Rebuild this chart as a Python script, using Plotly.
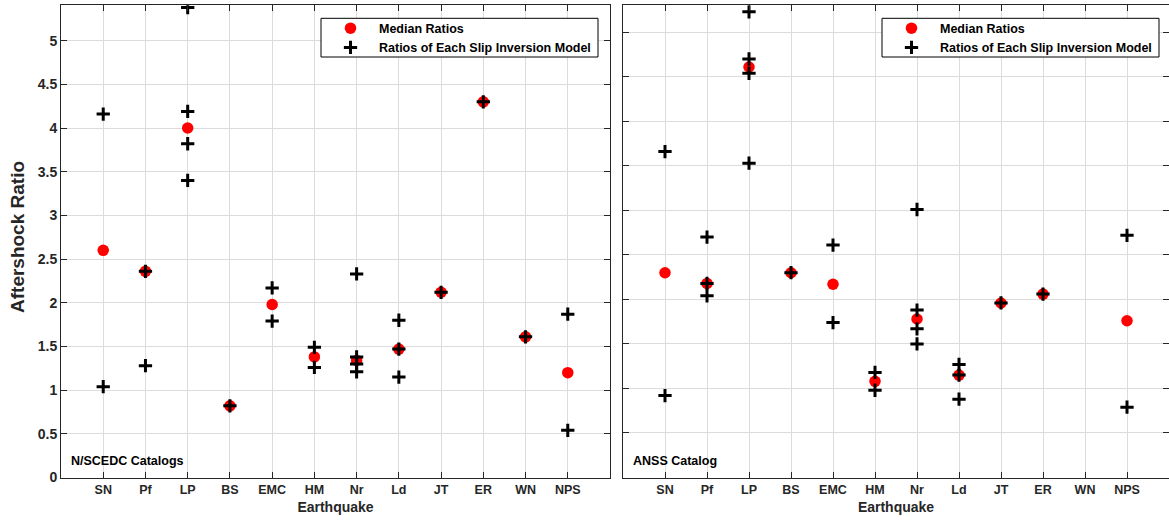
import plotly.graph_objects as go

W, H = 1169, 521

categories = ["SN", "Pf", "LP", "BS", "EMC", "HM", "Nr", "Ld", "JT", "ER", "WN", "NPS"]

# N/SCEDC catalogs (left panel)
left_median = [2.60, 2.36, 4.00, 0.82, 1.98, 1.38, 1.34, 1.47, 2.12, 4.30, 1.61, 1.20]
left_models = [
    [4.16, 1.04],
    [2.36, 1.28],
    [5.38, 4.19, 3.82, 3.40],
    [0.82],
    [2.17, 1.79],
    [1.49, 1.26],
    [2.33, 1.38, 1.30, 1.21],
    [1.80, 1.47, 1.15],
    [2.12],
    [4.30],
    [1.61],
    [1.87, 0.54],
]

# ANSS catalog (right panel)
right_median = [2.30, 2.18, 4.61, 2.30, 2.17, 1.08, 1.78, 1.15, 1.96, 2.06, None, 1.76]
right_models = [
    [3.66, 0.92],
    [2.70, 2.18, 2.04],
    [5.23, 4.70, 4.54, 3.53],
    [2.30],
    [2.61, 1.74],
    [1.18, 0.98],
    [3.01, 1.88, 1.67, 1.50],
    [1.27, 1.15, 0.88],
    [1.96],
    [2.06],
    [],
    [2.72, 0.79],
]

yticks = [0, 0.5, 1, 1.5, 2, 2.5, 3, 3.5, 4, 4.5, 5]
ytick_text = ["0", "0.5", "1", "1.5", "2", "2.5", "3", "3.5", "4", "4.5", "5"]
xpos = list(range(1, len(categories) + 1))

FONT = "Liberation Sans, Arial, Helvetica, sans-serif"
AX = "#262626"
GRID = "#dcdcdc"


def flat(models):
    xs, ys = [], []
    for i, vals in enumerate(models):
        for v in vals:
            xs.append(i + 1)
            ys.append(v)
    return xs, ys


fig = go.Figure()

panels = [
    (left_median, left_models, "x", "y", "legend"),
    (right_median, right_models, "x2", "y2", "legend2"),
]
for med, models, xa, ya, lg in panels:
    mx = [xpos[i] for i, v in enumerate(med) if v is not None]
    my = [v for v in med if v is not None]
    fig.add_trace(go.Scatter(
        x=mx, y=my, mode="markers", name="Median Ratios",
        marker=dict(symbol="circle", size=11.5, color="#ff0000", line=dict(width=0)),
        xaxis=xa, yaxis=ya, legend=lg,
    ))
    cx, cy = flat(models)
    fig.add_trace(go.Scatter(
        x=cx, y=cy, mode="markers", name="Ratios of Each Slip Inversion Model",
        marker=dict(symbol="cross-thin", size=9.5, color="black",
                    line=dict(width=3, color="black")),
        xaxis=xa, yaxis=ya, legend=lg,
    ))

x0L, x1L = 61 / W, 610 / W
x0R, x1R = 623 / W, 1.0
yb, yt = 1 - 477.5 / H, 1 - 5.3 / H

common_x = dict(
    tickmode="array", tickvals=xpos, ticktext=categories, range=[0, 13],
    showgrid=True, gridcolor=GRID, gridwidth=1, zeroline=False,
    showline=True, linecolor=AX, linewidth=1, mirror="ticks",
    ticks="inside", ticklen=6, tickcolor=AX, tickwidth=1, automargin=False,
    tickfont=dict(family=FONT, size=12.5, color=AX, weight="bold"),
    title=dict(text="<b>Earthquake</b>", font=dict(family=FONT, size=14, color=AX), standoff=6),
)
common_y = dict(
    tickmode="array", tickvals=yticks, ticktext=ytick_text,
    showgrid=True, gridcolor=GRID, gridwidth=1, zeroline=False,
    showline=True, linecolor=AX, linewidth=1, mirror="ticks",
    ticks="inside", ticklen=6, tickcolor=AX, tickwidth=1, automargin=False,
    tickfont=dict(family=FONT, size=14, color=AX, weight="bold"),
)

legend_style = dict(
    xanchor="left", yanchor="middle",
    bgcolor="rgba(0,0,0,0)", borderwidth=0,
    font=dict(family=FONT, size=12.5, color="black", weight="bold"),
    itemwidth=47, tracegroupgap=0,
)

# legend frames (pixel boxes converted to paper fractions)
boxes = [(321, 18.3, 598, 57), (882, 18.3, 1159, 57)]
shapes = [
    dict(type="rect", xref="paper", yref="paper",
         x0=bx0 / W, x1=bx1 / W, y0=1 - by1 / H, y1=1 - by0 / H,
         fillcolor="white", line=dict(color="black", width=1), layer="above")
    for bx0, by0, bx1, by1 in boxes
]

fig.update_layout(
    width=W, height=H,
    margin=dict(l=0, r=0, t=0, b=0, autoexpand=False),
    paper_bgcolor="white", plot_bgcolor="white",
    font=dict(family=FONT, color=AX),
    xaxis=dict(domain=[x0L, x1L], anchor="y", **common_x),
    yaxis=dict(domain=[yb, yt], anchor="x", range=[0, 5.405], **common_y),
    xaxis2=dict(domain=[x0R, x1R], anchor="y2", **common_x),
    yaxis2=dict(domain=[yb, yt], anchor="x2", range=[0, 5.303], showticklabels=False,
                **{k: v for k, v in common_y.items() if k != "tickfont"}),
    legend=dict(x=322 / W, y=1 - 38 / H, **legend_style),
    legend2=dict(x=883 / W, y=1 - 38 / H, **legend_style),
    shapes=shapes,
    annotations=[
        dict(text="<b>Aftershock Ratio</b>", xref="paper", yref="paper",
             x=18 / W, y=1 - 237 / H, textangle=-90, showarrow=False,
             font=dict(family=FONT, size=19, color=AX), xanchor="center", yanchor="middle"),
        dict(text="<b>N/SCEDC Catalogs</b>", xref="paper", yref="paper",
             x=69 / W, y=1 - 460.5 / H, showarrow=False, xanchor="left", yanchor="middle",
             font=dict(family=FONT, size=12.5, color="black")),
        dict(text="<b>ANSS Catalog</b>", xref="paper", yref="paper",
             x=631 / W, y=1 - 460.5 / H, showarrow=False, xanchor="left", yanchor="middle",
             font=dict(family=FONT, size=12.5, color="black")),
    ],
)

fig.write_html(
    "out.html",
    config={"displayModeBar": False},
    post_script="document.body.style.margin='0';document.body.style.overflow='hidden';",
)
